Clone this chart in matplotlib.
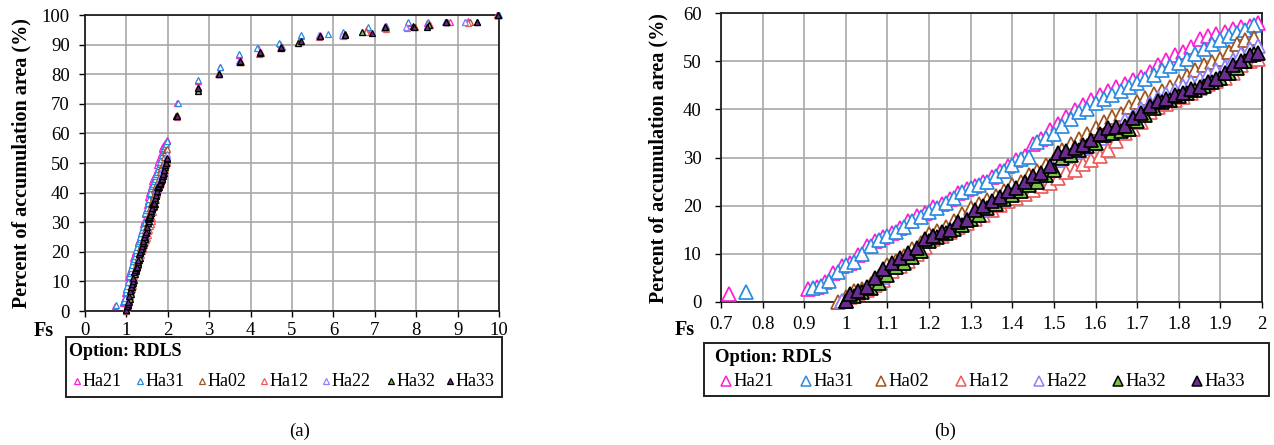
import matplotlib
matplotlib.use('Agg')
import matplotlib.pyplot as plt
import numpy as np
from matplotlib.lines import Line2D
from matplotlib.patches import Rectangle

plt.rcParams['font.family'] = ['Liberation Serif', 'DejaVu Serif']

# ---------------- data ----------------
series_names = ['Ha21', 'Ha31', 'Ha02', 'Ha12', 'Ha22', 'Ha32', 'Ha33']

ha21_fs = [0.72, 0.91, 0.93, 0.95, 0.97, 0.99, 1.01, 1.03, 1.05, 1.07,
           1.09, 1.11, 1.13, 1.15, 1.17, 1.19, 1.21, 1.23, 1.25, 1.27,
           1.29, 1.31, 1.33, 1.35, 1.37, 1.39, 1.41, 1.43, 1.45, 1.47,
           1.49, 1.51, 1.53, 1.55, 1.57, 1.59, 1.61, 1.63, 1.65, 1.67,
           1.69, 1.71, 1.73, 1.75, 1.77, 1.79, 1.81, 1.83, 1.85, 1.87,
           1.89, 1.91, 1.93, 1.95, 1.97, 1.99, 2.23, 2.73, 3.25, 3.72,
           4.18, 4.72, 5.21, 5.67, 6.22, 6.81, 7.24, 7.80, 8.25, 8.82,
           9.24, 9.97]
ha21_pct = [1.6, 2.8, 3.2, 4.1, 6.1, 7.4, 8.1, 9.7, 11.6, 12.6,
            13.5, 14.3, 15.4, 16.8, 17.8, 18.5, 19.8, 20.4, 21.4, 22.6,
            23.4, 24.1, 24.9, 26.0, 27.1, 28.3, 29.4, 30.4, 32.8, 33.9,
            35.8, 37.0, 38.5, 39.8, 41.0, 42.0, 43.0, 43.8, 44.6, 45.3,
            46.0, 46.7, 47.8, 49.2, 50.3, 51.2, 52.0, 53.0, 54.6, 55.2,
            55.7, 56.1, 56.6, 57.0, 57.4, 57.9, 70.2, 77.6, 82.3, 86.6,
            88.8, 90.3, 93.0, 93.3, 93.8, 95.2, 96.2, 97.3, 97.4, 97.6,
            97.9, 100.0]

ha31_fs = [0.76, 0.92, 0.94, 0.96, 0.98, 1.00, 1.02, 1.04, 1.06, 1.08,
           1.10, 1.12, 1.14, 1.16, 1.18, 1.20, 1.22, 1.24, 1.26, 1.28,
           1.30, 1.32, 1.34, 1.36, 1.38, 1.40, 1.42, 1.44, 1.46, 1.48,
           1.50, 1.52, 1.54, 1.56, 1.58, 1.60, 1.62, 1.64, 1.66, 1.68,
           1.70, 1.72, 1.74, 1.76, 1.78, 1.80, 1.82, 1.84, 1.86, 1.88,
           1.90, 1.92, 1.94, 1.96, 1.98, 2.24, 2.74, 3.26, 3.71, 4.16,
           4.69, 5.22, 5.87, 6.24, 6.84, 7.26, 7.81, 8.28, 8.75, 9.18,
           9.99]
ha31_pct = [2.1, 2.9, 3.3, 4.4, 6.3, 7.6, 8.3, 9.9, 11.7, 12.8,
            13.6, 14.5, 15.6, 16.9, 17.7, 18.6, 19.5, 20.6, 21.5, 22.9,
            23.6, 24.2, 25.0, 26.2, 27.3, 28.5, 29.6, 30.2, 33.2, 34.1,
            34.9, 36.5, 38.0, 39.4, 40.0, 41.4, 42.1, 43.0, 43.8, 44.6,
            45.5, 46.3, 47.1, 48.1, 48.9, 49.6, 50.5, 51.4, 52.6, 53.6,
            54.3, 55.2, 55.8, 56.5, 57.6, 70.3, 78.1, 82.6, 86.9, 89.0,
            90.7, 93.3, 93.6, 94.2, 96.0, 96.4, 97.5, 97.8, 97.6, 97.8,
            100.0]

ha02_fs = [0.98, 1.00, 1.02, 1.04, 1.06, 1.08, 1.10, 1.12, 1.14, 1.16,
           1.18, 1.20, 1.22, 1.24, 1.26, 1.28, 1.30, 1.32, 1.34, 1.36,
           1.38, 1.40, 1.42, 1.44, 1.46, 1.48, 1.50, 1.52, 1.54, 1.56,
           1.58, 1.60, 1.62, 1.64, 1.66, 1.68, 1.70, 1.72, 1.74, 1.76,
           1.78, 1.80, 1.82, 1.84, 1.86, 1.88, 1.90, 1.92, 1.94, 1.96,
           1.98, 2.22, 2.73, 3.24, 3.76, 4.24, 4.75, 5.20, 5.66, 6.25,
           6.79, 7.26, 7.96, 8.32, 8.74, 9.30, 9.96]
ha02_pct = [0.0, 1.0, 2.2, 2.8, 3.8, 5.4, 7.6, 8.6, 9.6, 11.0,
            12.2, 14.2, 14.8, 15.5, 16.8, 18.3, 19.5, 20.3, 21.2, 22.0,
            23.0, 24.2, 25.0, 26.3, 27.2, 28.5, 29.5, 31.6, 32.8, 33.9,
            34.9, 36.2, 37.3, 38.5, 39.0, 40.4, 41.5, 42.4, 43.1, 43.8,
            44.6, 45.6, 47.0, 48.2, 49.2, 49.8, 50.5, 52.0, 53.6, 54.3,
            54.8, 66.3, 75.6, 80.5, 84.0, 87.0, 89.3, 91.0, 92.8, 93.3,
            94.6, 95.5, 96.0, 96.8, 97.5, 97.6, 100.0]

ha12_fs = [0.99, 1.01, 1.03, 1.05, 1.07, 1.09, 1.11, 1.13, 1.15, 1.17,
           1.19, 1.21, 1.23, 1.25, 1.27, 1.29, 1.31, 1.33, 1.35, 1.37,
           1.39, 1.41, 1.43, 1.45, 1.47, 1.49, 1.51, 1.53, 1.55, 1.57,
           1.59, 1.61, 1.63, 1.65, 1.67, 1.69, 1.71, 1.73, 1.75, 1.77,
           1.79, 1.81, 1.83, 1.85, 1.87, 1.89, 1.91, 1.93, 1.95, 1.97,
           1.99, 2.22, 2.72, 3.22, 3.73, 4.21, 4.72, 5.14, 5.66, 6.24,
           6.78, 7.27, 7.78, 8.33, 8.73, 9.25, 9.96]
ha12_pct = [0.2, 1.0, 1.8, 2.5, 3.5, 4.6, 6.5, 7.5, 8.6, 10.0,
            11.5, 13.0, 13.8, 14.5, 15.6, 16.5, 17.2, 18.0, 19.0, 20.2,
            20.9, 21.6, 22.4, 23.2, 24.0, 24.8, 25.7, 26.9, 27.4, 28.7,
            29.5, 30.3, 31.5, 33.5, 35.0, 36.0, 37.4, 39.5, 40.4, 41.2,
            42.0, 42.6, 43.3, 44.4, 45.2, 45.8, 46.5, 47.5, 49.2, 50.0,
            50.4, 65.6, 74.8, 80.0, 84.0, 86.8, 89.0, 90.5, 92.7, 93.0,
            94.2, 95.3, 95.6, 96.5, 97.5, 97.3, 100.0]

ha22_fs = [0.99, 1.01, 1.03, 1.05, 1.07, 1.09, 1.11, 1.13, 1.15, 1.17,
           1.19, 1.21, 1.23, 1.25, 1.27, 1.29, 1.31, 1.33, 1.35, 1.37,
           1.39, 1.41, 1.43, 1.45, 1.47, 1.49, 1.51, 1.53, 1.55, 1.57,
           1.59, 1.61, 1.63, 1.65, 1.67, 1.69, 1.71, 1.73, 1.75, 1.77,
           1.79, 1.81, 1.83, 1.85, 1.87, 1.89, 1.91, 1.93, 1.95, 1.97,
           1.99, 2.21, 2.72, 3.23, 3.73, 4.22, 4.73, 5.19, 5.65, 6.21,
           6.70, 7.23, 7.76, 8.27, 8.70, 9.17, 9.98]
ha22_pct = [0.3, 1.3, 2.0, 2.9, 4.6, 5.2, 7.3, 8.2, 9.3, 10.8,
            12.6, 13.6, 14.2, 15.0, 16.2, 17.2, 18.5, 19.4, 20.6, 21.5,
            22.4, 23.2, 24.5, 25.3, 26.4, 27.4, 29.5, 30.4, 31.2, 32.0,
            33.0, 34.0, 35.0, 36.4, 37.8, 38.6, 40.0, 41.3, 42.4, 43.2,
            44.0, 44.8, 45.6, 46.4, 47.3, 48.2, 48.8, 50.2, 51.4, 52.5,
            53.2, 66.0, 75.0, 80.2, 84.6, 87.5, 89.5, 91.0, 93.1, 93.4,
            94.3, 95.6, 96.0, 96.3, 97.6, 97.6, 100.0]

ha32_fs = [1.00, 1.02, 1.04, 1.06, 1.08, 1.10, 1.12, 1.14, 1.16, 1.18,
           1.20, 1.22, 1.24, 1.26, 1.28, 1.30, 1.32, 1.34, 1.36, 1.38,
           1.40, 1.42, 1.44, 1.46, 1.48, 1.50, 1.52, 1.54, 1.56, 1.58,
           1.60, 1.62, 1.64, 1.66, 1.68, 1.70, 1.72, 1.74, 1.76, 1.78,
           1.80, 1.82, 1.84, 1.86, 1.88, 1.90, 1.92, 1.94, 1.96, 1.98,
           2.21, 2.73, 3.24, 3.75, 4.22, 4.73, 5.15, 5.68, 6.28, 6.70,
           7.25, 7.93, 8.30, 8.72, 9.48, 9.98]
ha32_pct = [0.3, 1.2, 2.0, 2.9, 4.0, 5.6, 7.2, 8.0, 9.4, 10.5,
            12.6, 13.5, 14.3, 15.2, 16.0, 17.2, 18.0, 19.5, 20.3, 21.3,
            22.3, 23.0, 24.2, 25.0, 26.3, 27.5, 29.8, 30.5, 31.5, 32.3,
            33.0, 34.6, 35.1, 35.5, 36.0, 37.5, 38.8, 40.3, 41.5, 42.0,
            42.8, 43.4, 44.0, 44.8, 45.7, 46.5, 47.5, 48.6, 50.0, 51.5,
            66.0, 74.4, 80.0, 84.2, 87.3, 89.0, 90.6, 92.9, 93.6, 94.4,
            95.9, 96.2, 96.5, 97.8, 97.7, 100.0]

ha33_fs = [1.00, 1.01, 1.03, 1.05, 1.07, 1.09, 1.11, 1.13, 1.15, 1.17,
           1.19, 1.21, 1.23, 1.25, 1.27, 1.29, 1.31, 1.33, 1.35, 1.37,
           1.39, 1.41, 1.43, 1.45, 1.47, 1.49, 1.51, 1.53, 1.55, 1.57,
           1.59, 1.61, 1.63, 1.65, 1.67, 1.69, 1.71, 1.73, 1.75, 1.77,
           1.79, 1.81, 1.83, 1.85, 1.87, 1.89, 1.91, 1.93, 1.95, 1.97,
           1.99, 2.22, 2.72, 3.23, 3.74, 4.23, 4.74, 5.22, 5.67, 6.27,
           6.94, 7.24, 7.95, 8.26, 8.71, 9.47, 9.97]
ha33_pct = [0.2, 1.6, 2.3, 3.2, 5.0, 6.8, 8.1, 9.2, 10.1, 11.2,
            13.1, 13.8, 14.5, 15.0, 16.6, 17.1, 19.2, 19.9, 20.9, 21.9,
            23.0, 23.7, 25.0, 26.1, 26.8, 28.3, 31.0, 31.4, 31.9, 32.6,
            33.7, 34.9, 36.1, 36.3, 36.6, 38.1, 39.3, 40.7, 41.8, 42.1,
            43.0, 43.3, 44.3, 44.6, 45.7, 46.4, 47.6, 49.2, 50.1, 51.2,
            51.7, 65.8, 75.4, 80.2, 84.5, 87.6, 89.3, 91.2, 93.0, 93.4,
            93.9, 95.8, 95.8, 96.0, 97.6, 97.6, 100.0]

xticks_a = [0, 1, 2, 3, 4, 5, 6, 7, 8, 9, 10]
yticks_a = [0, 10, 20, 30, 40, 50, 60, 70, 80, 90, 100]
xticks_b = [0.7, 0.8, 0.9, 1.0, 1.1, 1.2, 1.3, 1.4, 1.5, 1.6, 1.7, 1.8, 1.9, 2.0]
xticklabels_b = ['0.7', '0.8', '0.9', '1', '1.1', '1.2', '1.3', '1.4', '1.5',
                 '1.6', '1.7', '1.8', '1.9', '2']
yticks_b = [0, 10, 20, 30, 40, 50, 60]
ylabel_text = 'Percent of accumulation area (%)'
legend_title = 'Option: RDLS'

data = {
    'Ha21': (ha21_fs, ha21_pct),
    'Ha31': (ha31_fs, ha31_pct),
    'Ha02': (ha02_fs, ha02_pct),
    'Ha12': (ha12_fs, ha12_pct),
    'Ha22': (ha22_fs, ha22_pct),
    'Ha32': (ha32_fs, ha32_pct),
    'Ha33': (ha33_fs, ha33_pct),
}

# ---------------- styles ----------------
styles = {
    'Ha21': dict(mfc='white', mec='#FF1CD6'),
    'Ha31': dict(mfc='white', mec='#2A8AE0'),
    'Ha02': dict(mfc='white', mec='#A0541F'),
    'Ha12': dict(mfc='white', mec='#EC5B5B'),
    'Ha22': dict(mfc='white', mec='#8A80FF'),
    'Ha32': dict(mfc='#7DC446', mec='black'),
    'Ha33': dict(mfc='#6A2D8F', mec='black'),
}

W, H = 1274, 445
fig = plt.figure(figsize=(W / 100, H / 100), dpi=100)


def fx(px):
    return px / W


def fy(py):
    return 1 - py / H


axA = fig.add_axes([fx(85), fy(311), fx(499) - fx(85), fy(15) - fy(311)])
axB = fig.add_axes([fx(721), fy(302), fx(1262) - fx(721), fy(13) - fy(302)])

grid_kw = dict(color='#a8a8a8', lw=1.2)

# ---- panel (a) ----
for name in series_names:
    xs, ys = data[name]
    axA.plot(xs, ys, ls='none', marker='^', ms=4.8, mew=0.9, clip_on=False,
             zorder=3, **styles[name])
axA.set_xlim(0, 10)
axA.set_ylim(0, 100)
axA.set_xticks(xticks_a)
axA.set_yticks(yticks_a)
axA.grid(True, **grid_kw)
axA.set_axisbelow(True)
axA.tick_params(axis='both', direction='out', length=4, width=1, labelsize=13.5,
                colors='black')
axA.tick_params(axis='x', pad=4)
axA.tick_params(axis='y', pad=7)

# ---- panel (b) ----
for name in series_names:
    xs, ys = data[name]
    xs = np.asarray(xs)
    ys = np.asarray(ys)
    m = xs <= 2.0
    axB.plot(xs[m], ys[m], ls='none', marker='^', ms=9.8, mew=1.25, clip_on=False,
             zorder=3, **styles[name])
axB.set_xlim(0.7, 2.0)
axB.set_ylim(0, 60)
axB.set_xticks(xticks_b)
axB.set_xticklabels(xticklabels_b)
axB.set_yticks(yticks_b)
axB.grid(True, **grid_kw)
axB.set_axisbelow(True)
axB.tick_params(axis='both', direction='out', length=4, width=1, labelsize=13.5,
                colors='black')
axB.tick_params(axis='x', pad=6)
axB.tick_params(axis='y', pad=10)

for ax in (axA, axB):
    for s in ax.spines.values():
        s.set_linewidth(1.3)
        s.set_color('#202020')

# axis labels
fig.text(fx(21), fy(163), ylabel_text, rotation=90, ha='center', va='center',
         fontsize=14.5, fontweight='bold')
fig.text(fx(658), fy(158), ylabel_text, rotation=90, ha='center', va='center',
         fontsize=14.5, fontweight='bold')
fig.text(fx(44), fy(331), 'Fs', ha='center', va='center', fontsize=14.5,
         fontweight='bold')
fig.text(fx(685), fy(330), 'Fs', ha='center', va='center', fontsize=14.5,
         fontweight='bold')

# ---- legends (manual boxes) ----
def draw_legend(box, title_x, title_y, entry_y, marker_xs, text_dx, fsize, ms, mew):
    x0, y0, x1, y1 = box
    fig.patches.append(Rectangle((fx(x0), fy(y1)), fx(x1) - fx(x0), fy(y0) - fy(y1),
                                 transform=fig.transFigure, fill=False,
                                 edgecolor='#202020', lw=1.4))
    fig.text(fx(title_x), fy(title_y), legend_title, ha='left', va='center',
             fontsize=fsize, fontweight='bold')
    for name, mx in zip(series_names, marker_xs):
        fig.lines.append(Line2D([fx(mx)], [fy(entry_y)], transform=fig.transFigure,
                                ls='none', marker='^', ms=ms, mew=mew,
                                **styles[name]))
        fig.text(fx(mx + text_dx), fy(entry_y), name, ha='left', va='center',
                 fontsize=fsize)


draw_legend((66, 337, 502, 397), 69, 352, 381,
            [77, 140, 202, 264, 326, 391, 450], 6, 13, 4.5, 0.9)
draw_legend((704, 343, 1269, 396), 715, 358, 381,
            [726, 806, 881, 961, 1039, 1118, 1197], 7, 13.5, 7.5, 1.1)

fig.text(fx(300), fy(431), '(a)', ha='center', va='center', fontsize=13.5)
fig.text(fx(945), fy(431), '(b)', ha='center', va='center', fontsize=13.5)

fig.savefig('out.png', dpi=100)
